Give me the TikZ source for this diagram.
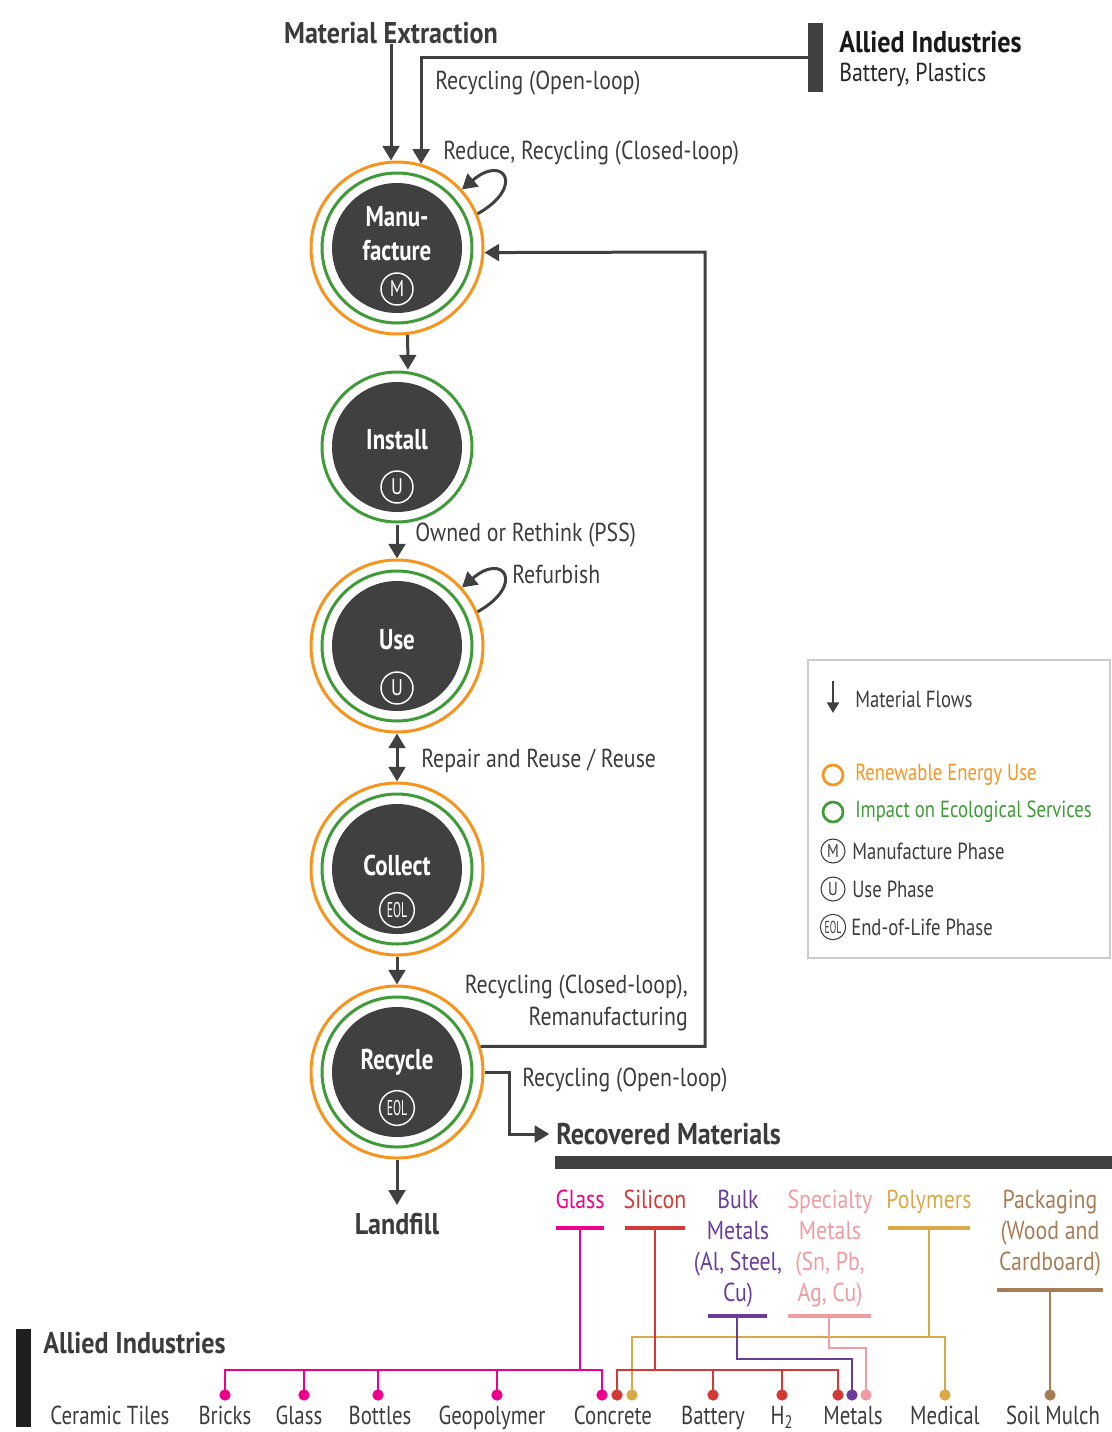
\documentclass[tikz,border=0pt]{standalone}
\usepackage{fontspec}
\setmainfont{PT Sans}[FakeStretch=0.8]
\newfontfamily\widefont{PT Sans}[FakeStretch=0.84]
\newfontfamily\hdrfont{PT Sans}[FakeStretch=0.87]
\newfontfamily\eolfont{PT Sans}[FakeStretch=0.55]
\usepackage{tikz}
\usetikzlibrary{arrows.meta}
\usetikzlibrary{calc}

\definecolor{dark}{HTML}{404041}
\definecolor{txt}{HTML}{3C3C3C}
\definecolor{renew}{HTML}{F7941D}
\definecolor{eco}{HTML}{3E9B37}
\definecolor{glasscol}{HTML}{EC008C}
\definecolor{siliconcol}{HTML}{D33A35}
\definecolor{bulkcol}{HTML}{6B3D99}
\definecolor{specialcol}{HTML}{F19BA2}
\definecolor{polycol}{HTML}{D8A946}
\definecolor{packcol}{HTML}{A87C54}
\definecolor{legline}{HTML}{CCCCCC}

\newcommand{\lblsize}{\widefont\fontsize{19.5}{23.5}\selectfont}
\newcommand{\botsize}{\fontsize{19.5}{23.5}\selectfont}
\newcommand{\hdrsize}{\hdrfont\fontsize{22.5}{25.5}\selectfont\bfseries}
\newcommand{\stagesize}{\fontsize{21.5}{25.5}\selectfont\bfseries}
\newcommand{\legsize}{\fontsize{17.5}{21}\selectfont}

\tikzset{
    flow/.style={draw=dark, line width=2.25pt, -{Triangle[length=11pt,width=12.5pt]}},
    twoflow/.style={draw=dark, line width=2.25pt,
        {Triangle[length=11pt,width=12.5pt]}-{Triangle[length=11pt,width=12.5pt]}},
    legflow/.style={draw=dark, line width=1.5pt, -{Triangle[length=8pt,width=9pt]}},
    stage/.style={circle, inner sep=0pt, minimum size=129pt, draw=renew, line width=2.25pt,
        path picture={
            \fill[dark] (path picture bounding box.center) circle (65);
            \draw[eco, line width=2.25pt] (path picture bounding box.center) circle (75);}},
    ecostage/.style={stage, draw=none, minimum size=115pt},
    stagetext/.style={text=white, font=\stagesize, align=center, inner sep=0pt},
    phase/.style={circle, draw=white, line width=1.1pt, inner sep=0pt, minimum size=24pt,
        text=white, font=\fontsize{17}{17}\selectfont},
    eol/.style={phase, minimum size=26pt, font=\eolfont\fontsize{16}{16}\selectfont},
    legphase/.style={phase, draw=txt, text=txt, line width=0.8pt, minimum size=18pt,
        font=\fontsize{14}{14}\selectfont},
    legeol/.style={legphase, minimum size=19pt, font=\eolfont\fontsize{13}{13}\selectfont},
    lbl/.style={text=txt, font=\lblsize, inner sep=0pt},
    botlbl/.style={text=txt, font=\botsize, inner sep=0pt, anchor=base},
    hdr/.style={text=txt, font=\hdrsize, inner sep=0pt},
    leg/.style={text=txt, font=\legsize, inner sep=0pt},
    cat/.style={text=#1, font=\widefont\fontsize{19.5}{23.25}\selectfont, align=center, anchor=north, inner sep=0pt},
    mline/.style={draw=#1, line width=2pt},
    mbar/.style={draw=#1, line width=3pt},
    dot/.style={circle, fill=#1, inner sep=0pt, minimum size=8.5pt},
    bar/.style={rectangle, fill=#1, inner sep=0pt},
}

\begin{document}
\begin{tikzpicture}[x=0.75pt, y=0.75pt]
\useasboundingbox (0,0) rectangle (1112,-1432);

% life-cycle stages
\node[stage] (man) at (397,-248) {};
\node[ecostage] (inst) at (397,-447) {};
\node[stage] (use) at (397,-646) {};
\node[stage] (coll) at (397,-869) {};
\node[stage] (rec) at (397,-1072) {};

\node[stagetext] (mantxt) at (397,-234) {Manu-\\facture};
\node[phase] (manph) at (397,-289) {M};
\node[stagetext] (insttxt) at (397,-440) {Install};
\node[phase] (instph) at (397,-487) {U};
\node[stagetext] (usetxt) at (397,-640) {Use};
\node[phase] (useph) at (397,-688) {U};
\node[stagetext] (colltxt) at (397,-865) {Collect};
\node[eol] (collph) at (397,-910) {EOL};
\node[stagetext] (rectxt) at (397,-1062) {Recycle};
\node[eol] (recph) at (397,-1108) {EOL};

% inputs
\node[hdr] (mext) at (391,-33) {Material Extraction};
\node[bar=dark, minimum width=11.25pt, minimum height=51.75pt] (abar) at (815.5,-57.5) {};
\node[hdr, anchor=west, text=black!90] (allied) at (839,-42) {Allied Industries};
\node[lbl, anchor=west, text=black!85] (alliedsub) at (839,-75) {Battery, Plastics};

\draw[flow] (mext.south) -- (mext.south |- man.north);
\draw[flow] (abar.west) -| (man.74);
\node[lbl, anchor=west] (olooptop) at (435,-83) {Recycling (Open-loop)};
\node[lbl, anchor=west] (reduce) at (443,-153) {Reduce, Recycling (Closed-loop)};
\draw[flow] (man.23) .. controls +(48,27) and +(42,36) .. (man.42);

% flows down the chain
\draw[flow] (man.-83) -- (inst.82);
\draw[flow] (inst.south) -- (use.north);
\node[lbl, anchor=west] (pss) at (415,-535) {Owned or Rethink (PSS)};
\draw[flow] (use.23) .. controls +(48,27) and +(42,36) .. (use.42);
\node[lbl, anchor=west] (refurb) at (512,-574) {Refurbish};
\draw[twoflow] (use.south) -- (coll.north);
\node[lbl, anchor=west] (repair) at (421,-761) {Repair and Reuse / Reuse};
\draw[flow] (coll.south) -- (rec.north);

\coordinate (cltop) at (705,-252);
\draw[flow] (rec.17) -| (cltop) -- (man.-3);
\node[lbl, anchor=east, align=right] (closed) at (688,-1003) {Recycling (Closed-loop),\\Remanufacturing};

\node[hdr, anchor=west] (recov) at (556,-1134) {Recovered Materials};
\draw[flow, shorten >=5pt] (rec.east) -- ++(25,0) |- (recov.west);
\node[lbl, anchor=west] (oloopbot) at (522,-1080) {Recycling (Open-loop)};
\node[bar=dark, minimum width=417.75pt, minimum height=9.75pt] (rbar) at (833.5,-1162) {};

\node[hdr] (land) at (397,-1224) {Landfill};
\draw[flow, shorten >=6pt] (rec.south) -- (land.north);

% legend
\draw[legline, line width=1.1pt] (808,-660) rectangle (1110,-958);
\coordinate (legtop) at (833,-681);
\coordinate (legbot) at (833,-713);
\draw[legflow] (legtop) -- (legbot);
\node[leg, anchor=west] (legmf) at (855,-699) {Material Flows};
\draw[renew, line width=2pt] (833,-775) circle (10);
\node[leg, anchor=west, text=renew] (legren) at (855,-775) {Renewable Energy Use};
\draw[eco, line width=2pt] (833,-812) circle (10);
\node[leg, anchor=west, text=eco] (legeco) at (855,-812) {Impact on Ecological Services};
\node[legphase] (legm) at (833,-851) {M};
\node[leg, anchor=west] (legmt) at (852,-851) {Manufacture Phase};
\node[legphase] (legu) at (833,-889) {U};
\node[leg, anchor=west] (legut) at (852,-889) {Use Phase};
\node[legeol] (lege) at (833,-927) {EOL};
\node[leg, anchor=west] (leget) at (851,-927) {End-of-Life Phase};

% recovered materials
\node[cat=glasscol] (glass) at (580,-1190) {Glass};
\node[cat=siliconcol] (silicon) at (655,-1190) {Silicon};
\node[cat=bulkcol] (bulk) at (738,-1190) {Bulk\\Metals\\(Al, Steel,\\Cu)};
\node[cat=specialcol] (special) at (830,-1190) {Specialty\\Metals\\(Sn, Pb,\\Ag, Cu)};
\node[cat=polycol] (poly) at (929,-1190) {Polymers};
\node[cat=packcol] (pack) at (1050,-1190) {Packaging\\(Wood and\\Cardboard)};

\draw[mbar=glasscol] (556,-1228) -- (604,-1228);
\draw[mbar=siliconcol] (625,-1228) -- (685,-1228);
\draw[mbar=bulkcol] (708,-1316) -- (767,-1316);
\draw[mbar=specialcol] (788,-1316) -- (871,-1316);
\draw[mbar=polycol] (888,-1228) -- (970,-1228);
\draw[mbar=packcol] (997,-1290) -- (1103,-1290);

\coordinate (glassb) at (580,-1228);
\coordinate (gjoin) at (580,-1370);
\coordinate (silb) at (655,-1228);
\coordinate (sjoin) at (655,-1370);
\coordinate (polb) at (929,-1228);
\coordinate (pjoin) at (929,-1337);
\coordinate (bulkb) at (737,-1316);
\coordinate (specb) at (829,-1316);
\coordinate (packb) at (1050,-1290);

% allied industries
\node[bar=black!88, minimum width=11.25pt, minimum height=73.5pt] (abar2) at (23.5,-1378) {};
\node[hdr, anchor=west] (allied2) at (43,-1343) {Allied Industries};

\node[dot=glasscol] (gbricks) at (225,-1395) {};
\node[dot=glasscol] (gglass) at (304,-1395) {};
\node[dot=glasscol] (gbottles) at (378,-1395) {};
\node[dot=glasscol] (ggeo) at (497,-1395) {};
\node[dot=glasscol] (gconc) at (602,-1395) {};
\node[dot=siliconcol] (sconc) at (617,-1395) {};
\node[dot=siliconcol] (sbatt) at (713,-1395) {};
\node[dot=siliconcol] (shyd) at (782,-1395) {};
\node[dot=siliconcol] (smet) at (838,-1395) {};
\node[dot=polycol] (pconc) at (632,-1395) {};
\node[dot=polycol] (pmed) at (945,-1395) {};
\node[dot=bulkcol] (bmet) at (852,-1395) {};
\node[dot=specialcol] (spmet) at (866,-1395) {};
\node[dot=packcol] (pksoil) at (1050,-1395) {};

\draw[mline=polycol] (polb) -- (pjoin);
\draw[mline=polycol] (pconc.center) |- (pjoin) -| (pmed.center);
\draw[mline=glasscol] (glassb) -- (gjoin);
\draw[mline=glasscol] (gbricks.center) |- (gjoin) -| (gconc.center);
\draw[mline=glasscol] (gglass.center) -- (gglass.center |- gjoin);
\draw[mline=glasscol] (gbottles.center) -- (gbottles.center |- gjoin);
\draw[mline=glasscol] (ggeo.center) -- (ggeo.center |- gjoin);
\draw[mline=siliconcol] (silb) -- (sjoin);
\draw[mline=siliconcol] (sconc.center) |- (sjoin) -| (smet.center);
\draw[mline=siliconcol] (sbatt.center) -- (sbatt.center |- sjoin);
\draw[mline=siliconcol] (shyd.center) -- (shyd.center |- sjoin);
\draw[mline=bulkcol] (bulkb) -- ++(0,-43) -| (bmet.center);
\draw[mline=specialcol] (specb) -- ++(0,-32) -| (spmet.center);
\draw[mline=packcol] (packb) -- (pksoil.center);

\node[botlbl] (tiles) at (110,-1424) {Ceramic Tiles};
\node[botlbl] (bricks) at (225,-1424) {Bricks};
\node[botlbl] (glassi) at (299,-1424) {Glass};
\node[botlbl] (bottles) at (380,-1424) {Bottles};
\node[botlbl] (geo) at (492,-1424) {Geopolymer};
\node[botlbl] (concrete) at (613,-1424) {Concrete};
\node[botlbl] (battery) at (713,-1424) {Battery};
\node[botlbl] (hyd) at (782,-1424) {H\textsubscript{2}};
\node[botlbl] (metals) at (853,-1424) {Metals};
\node[botlbl] (medical) at (945,-1424) {Medical};
\node[botlbl] (mulch) at (1053,-1424) {Soil Mulch};
\end{tikzpicture}
\end{document}
